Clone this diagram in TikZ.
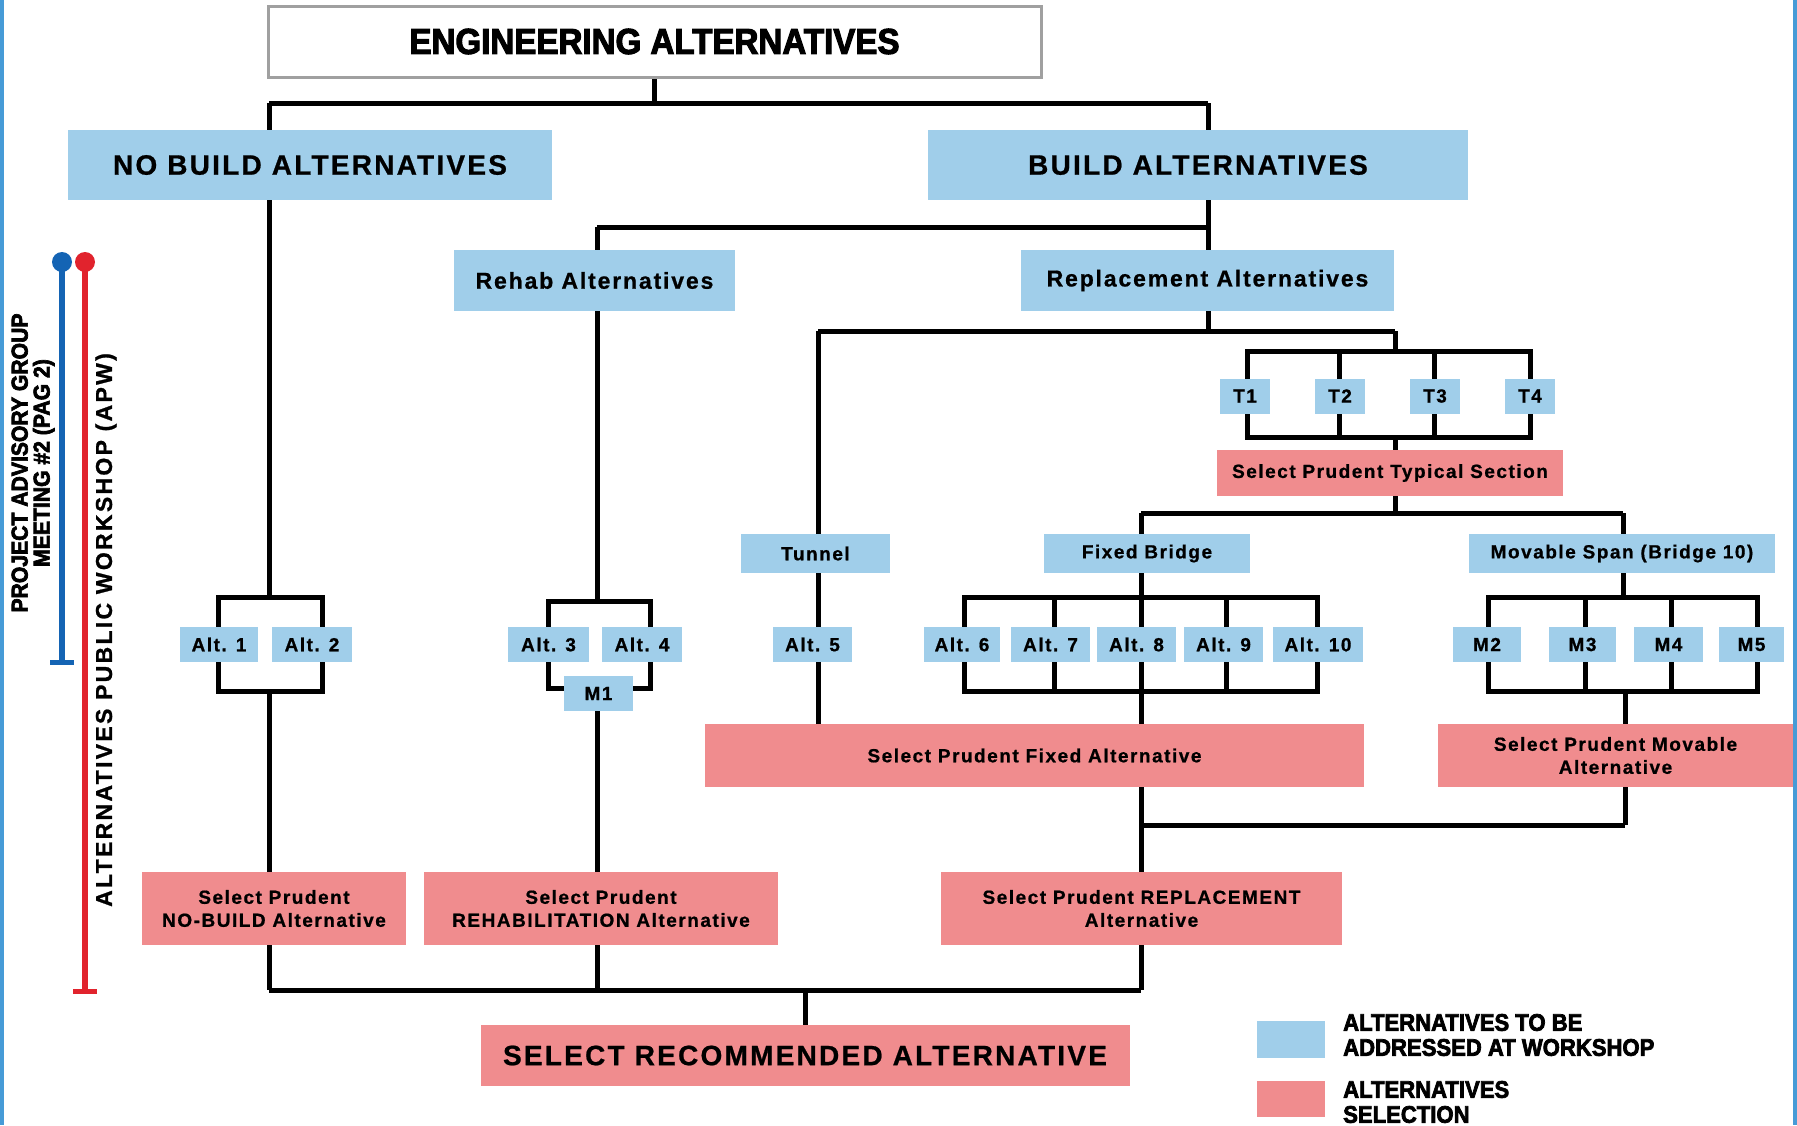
\documentclass[tikz,border=0pt]{standalone}
\usepackage{fontspec}
\setmainfont{Liberation Sans}
\newfontfamily\spfont{Liberation Sans}[LetterSpace=8,FakeBold=0.8]
\newfontfamily\hvfont{Liberation Sans}[FakeBold=3,FakeStretch=0.92]
\newfontfamily\apwfont{Liberation Sans}[LetterSpace=10,FakeBold=1]
\usetikzlibrary{backgrounds}
\definecolor{lblue}{RGB}{160,206,234}
\definecolor{lred}{RGB}{240,140,142}
\definecolor{barblue}{RGB}{20,100,180}
\definecolor{barred}{RGB}{225,35,45}
\definecolor{edgeblue}{RGB}{70,155,215}
\definecolor{engedge}{RGB}{160,160,160}
\begin{document}
\begin{tikzpicture}[x=1pt,y=-1pt,
  box/.style={inner sep=0pt, align=center, font=\spfont\bfseries\fontsize{19}{23}\selectfont},
  bbox/.style={box, fill=lblue},
  rbox/.style={box, fill=lred},
  mfont/.style={font=\spfont\bfseries\fontsize{23}{26}\selectfont},
  lfont/.style={font=\spfont\bfseries\fontsize{28}{30}\selectfont},
  altbox/.style={bbox, minimum height=35pt},
  conn/.style={line width=5pt, black},
]
\useasboundingbox (0,0) rectangle (1797,1125);

% main nodes
\node[draw=engedge, line width=3pt, fill=white, minimum width=773pt, minimum height=71pt, inner sep=0pt,
      font=\hvfont\bfseries\fontsize{36}{38}\selectfont] (eng) at (654.5,41.5) {ENGINEERING ALTERNATIVES};
\node[bbox, lfont, minimum width=484pt, minimum height=70pt] (nobuild) at (310,165) {NO BUILD ALTERNATIVES};
\node[bbox, lfont, minimum width=540pt, minimum height=70pt] (build) at (1198,165) {BUILD ALTERNATIVES};
\node[bbox, mfont, minimum width=281pt, minimum height=61pt] (rehab) at (594.5,280.5) {Rehab Alternatives};
\node[bbox, mfont, minimum width=373pt, minimum height=61pt] (repl) at (1207.5,280.5) {Replacement Alternatives};

\node[altbox, minimum width=50pt] (t1) at (1245,396) {T1};
\node[altbox, minimum width=50pt] (t2) at (1340,396) {T2};
\node[altbox, minimum width=50pt] (t3) at (1435,396) {T3};
\node[altbox, minimum width=50pt] (t4) at (1530,396) {T4};
\node[rbox, minimum width=346pt, minimum height=46pt] (typ) at (1390,473) {Select Prudent Typical Section};

\node[bbox, minimum width=149pt, minimum height=39pt] (tunnel) at (815.5,553.5) {Tunnel};
\node[bbox, minimum width=206pt, minimum height=39pt] (fixed) at (1147,553.5) {Fixed Bridge};
\node[bbox, minimum width=306pt, minimum height=39pt] (movable) at (1622,553.5) {Movable Span (Bridge 10)};

\node[altbox, minimum width=78pt] (alt1) at (219,644.5) {Alt. 1};
\node[altbox, minimum width=80pt] (alt2) at (312,644.5) {Alt. 2};
\node[altbox, minimum width=81pt] (alt3) at (548.5,644.5) {Alt. 3};
\node[altbox, minimum width=80pt] (alt4) at (642,644.5) {Alt. 4};
\node[altbox, minimum width=69pt] (m1) at (598.5,693.5) {M1};
\node[altbox, minimum width=79pt] (alt5) at (812.5,644.5) {Alt. 5};
\node[altbox, minimum width=76pt] (alt6) at (962,644.5) {Alt. 6};
\node[altbox, minimum width=79pt] (alt7) at (1050.5,644.5) {Alt. 7};
\node[altbox, minimum width=79pt] (alt8) at (1136.5,644.5) {Alt. 8};
\node[altbox, minimum width=79pt] (alt9) at (1223.5,644.5) {Alt. 9};
\node[altbox, minimum width=90pt] (alt10) at (1318,644.5) {Alt. 10};
\node[altbox, minimum width=68pt] (m2) at (1487,644.5) {M2};
\node[altbox, minimum width=67pt] (m3) at (1582.5,644.5) {M3};
\node[altbox, minimum width=69pt] (m4) at (1668.5,644.5) {M4};
\node[altbox, minimum width=65pt] (m5) at (1751.5,644.5) {M5};

\node[rbox, minimum width=659pt, minimum height=63pt] (selfixed) at (1034.5,755.5) {Select Prudent Fixed Alternative};
\node[rbox, minimum width=355pt, minimum height=63pt] (selmov) at (1615.5,755.5) {Select Prudent Movable\\Alternative};
\node[rbox, minimum width=264pt, minimum height=73pt] (selnb) at (274,908.5) {Select Prudent\\NO-BUILD Alternative};
\node[rbox, minimum width=354pt, minimum height=73pt] (selrehab) at (601,908.5) {Select Prudent\\REHABILITATION Alternative};
\node[rbox, minimum width=401pt, minimum height=73pt] (selrepl) at (1141.5,908.5) {Select Prudent REPLACEMENT\\Alternative};
\node[rbox, lfont, minimum width=649pt, minimum height=61pt] (selrec) at (805,1055.5) {SELECT RECOMMENDED ALTERNATIVE};

% junction coordinates
\coordinate (jA) at (269,103);
\coordinate (jB) at (1208,103);
\coordinate (jC) at (597,227);
\coordinate (jD) at (1208,227);
\coordinate (jE) at (818,331);
\coordinate (jF) at (1395,331);
\coordinate (jG) at (1141,513);
\coordinate (jH) at (1623,513);
\coordinate (jI) at (1141,825);
\coordinate (jJ) at (1625,825);
\coordinate (jK) at (269,990);
\coordinate (jL) at (1141,990);

\begin{scope}[on background layer]
  \fill[white] (0,0) rectangle (1797,1125);
  \fill[edgeblue] (0,0) rectangle (4,1125);
  \fill[edgeblue] (1793,0) rectangle (1797,1125);
  \draw[conn] (eng.south) -- (eng.south |- jA);
  \draw[conn] (jA) -- (jB);
  \draw[conn] (jA) -- (269,597);
  \draw[conn] (jB) -- (jD);
  \draw[conn] (jC) -- (jD);
  \draw[conn] (jC) -- (597,601);
  \draw[conn] (jD) -- (jE -| jD);
  \draw[conn] (jE) -- (jF);
  \draw[conn] (jE) -- (818,724);
  \draw[conn] (jF) -- (1395,351);
  % T bracket
  \draw[conn] (1247,351) rectangle (1530,437);
  \draw[conn] (1339,351) -- (1339,437);
  \draw[conn] (1434,351) -- (1434,437);
  \draw[conn] (1395,437) -- (1395,513);
  \draw[conn] (jG) -- (jH);
  \draw[conn] (jG) -- (1141,597);
  \draw[conn] (jH) -- (1623,597);
  % alt 1/2 bracket
  \draw[conn] (218,597) rectangle (322,691);
  \draw[conn] (269,691) -- (jK);
  % alt 3/4 bracket
  \draw[conn] (548,601) rectangle (650,688);
  \draw[conn] (597,688) -- (597,990);
  % fixed bracket
  \draw[conn] (964,597) rectangle (1317,691);
  \draw[conn] (1054,597) -- (1054,691);
  \draw[conn] (1141,597) -- (1141,691);
  \draw[conn] (1226,597) -- (1226,691);
  \draw[conn] (1141,691) -- (jL);
  % movable bracket
  \draw[conn] (1488,597) rectangle (1757,691);
  \draw[conn] (1585,597) -- (1585,691);
  \draw[conn] (1671,597) -- (1671,691);
  \draw[conn] (1625,691) -- (jJ);
  \draw[conn] (jI) -- (jJ);
  % bottom
  \draw[conn] (jK) -- (jL);
  \draw[conn] (selrec.north |- jK) -- (selrec.north);
\end{scope}

% left timeline bars
\draw[line width=6pt, barblue] (62,262) -- (62,662);
\draw[line width=5pt, barblue] (50,662) -- (74,662);
\fill[barblue] (62,262) circle (10pt);
\draw[line width=6pt, barred] (85,262) -- (85,991);
\draw[line width=5pt, barred] (73,991) -- (97,991);
\fill[barred] (85,262) circle (10pt);

\node[rotate=90, align=center, inner sep=0pt, font=\hvfont\bfseries\fontsize{23}{22}\selectfont] (pag) at (33,463)
  {PROJECT ADVISORY GROUP\\MEETING \#2 (PAG 2)};
\node[rotate=90, inner sep=0pt, font=\apwfont\bfseries\fontsize{23}{23}\selectfont] (apw) at (106,630)
  {ALTERNATIVES PUBLIC WORKSHOP (APW)};

% legend
\node[fill=lblue, minimum width=68pt, minimum height=37pt, inner sep=0pt] (legb) at (1291,1039.5) {};
\node[fill=lred, minimum width=68pt, minimum height=36pt, inner sep=0pt] (legr) at (1291,1099) {};
\node[anchor=west, align=left, inner sep=0pt, font=\hvfont\bfseries\fontsize{24}{25}\selectfont] (legbt) at (1343,1035)
  {ALTERNATIVES TO BE\\ADDRESSED AT WORKSHOP};
\node[anchor=west, align=left, inner sep=0pt, font=\hvfont\bfseries\fontsize{24}{25}\selectfont] (legrt) at (1343,1102)
  {ALTERNATIVES\\SELECTION};
\end{tikzpicture}
\end{document}
